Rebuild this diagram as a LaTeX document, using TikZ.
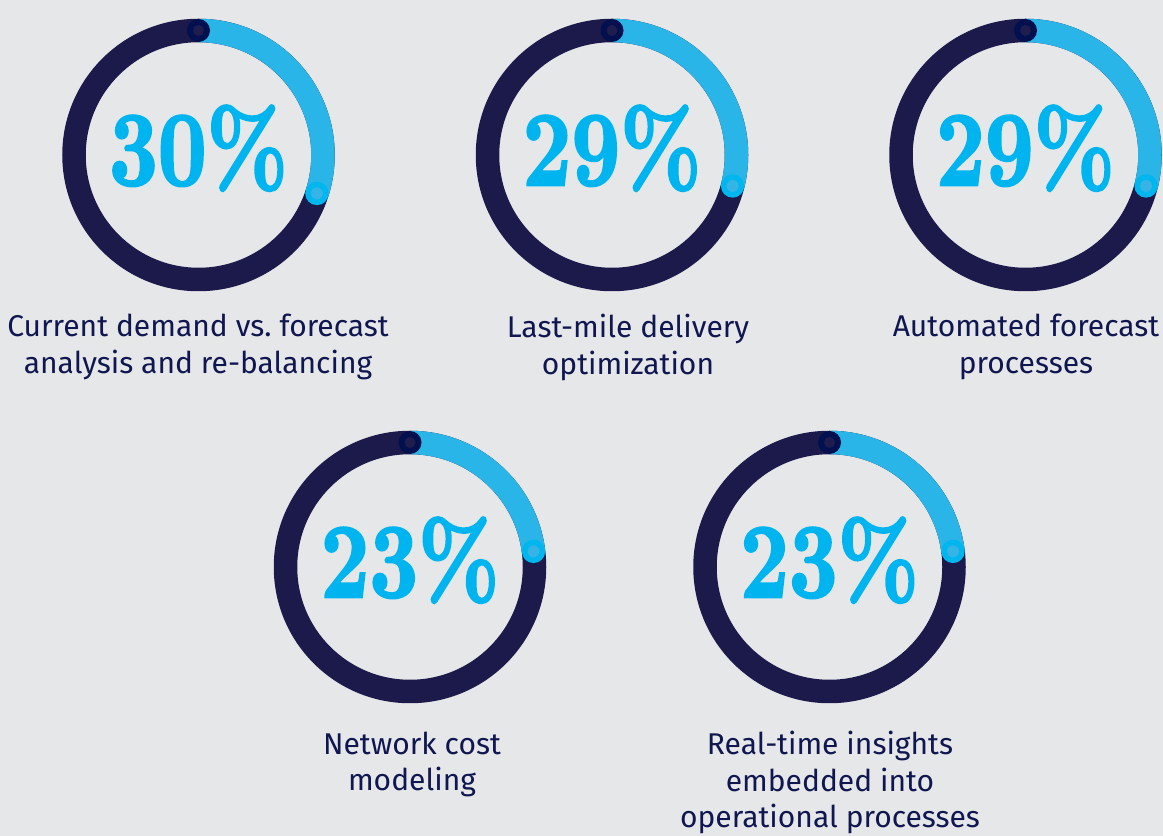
\documentclass[tikz,border=0pt]{standalone}
\usepackage{fontspec}
\usepackage{graphicx}
\newfontfamily\labelfont{Fira Sans}
\newfontfamily\pctfont{lmroman10-bold.otf}[FakeBold=2.5]
\definecolor{bg}{HTML}{E6E7E9}
\definecolor{navy}{HTML}{1B1A4B}
\definecolor{arcblue}{HTML}{2AB5E8}
\definecolor{pctblue}{HTML}{00B5EF}
\definecolor{dotdark}{HTML}{02104F}
\definecolor{dotdarkin}{HTML}{1F1C4E}
\definecolor{dotlight}{HTML}{00B6EF}
\definecolor{dotlightin}{HTML}{36B4E6}
\definecolor{labelc}{HTML}{0F1650}
\tikzset{
  ringbase/.style={draw=navy, line width=23.5pt},
  ringarc/.style={draw=arcblue, line width=23.5pt},
  pcttext/.style={text=pctblue, font=\pctfont\fontsize{106}{106}\selectfont, inner sep=0pt, anchor=base},
  labeltext/.style={text=labelc, font=\labelfont\fontsize{30}{36.5}\selectfont, align=center, inner sep=0pt, anchor=north},
}
\newcommand\DrawRing[5]{%
  % #1 name, #2 x, #3 y, #4 end angle, #5 percent text
  \coordinate (#1) at (#2,#3);
  \draw[ringbase] (#1) circle[radius=124.5pt];
  \draw[ringarc] (#1) ++(90:124.5pt) arc[start angle=90, end angle=#4, radius=124.5pt];
  \fill[dotdark] (#1) ++(90:124.5pt) circle[radius=11.5pt];
  \fill[dotdarkin] (#1) ++(90:124.5pt) circle[radius=5.5pt];
  \fill[dotlight] (#1) ++(#4:124.5pt) circle[radius=11.7pt];
  \fill[dotlightin] (#1) ++(#4:124.5pt) circle[radius=6pt];
  \node[pcttext] (#1pct) at ([yshift=-30pt]#1) {\scalebox{0.8}[1]{#5}};
}
\begin{document}
\begin{tikzpicture}[x=1pt,y=1pt]
  \fill[bg] (0,0) rectangle (1163,836);
  \useasboundingbox (0,0) rectangle (1163,836);
  \DrawRing{r1}{198.5}{681}{-18}{30\%}
  \DrawRing{r2}{612}{681}{-14.4}{29\%}
  \DrawRing{r3}{1025.5}{681}{-14.4}{29\%}
  \DrawRing{r4}{410}{269}{7.2}{23\%}
  \DrawRing{r5}{829.5}{269}{7.2}{23\%}
  \node[labeltext] (l1) at (198,522) {Current demand vs.\ forecast\\analysis and re-balancing};
  \node[labeltext] (l2) at (628,522) {Last-mile delivery\\optimization};
  \node[labeltext] (l3) at (1026,522) {Automated forecast\\processes};
  \node[labeltext] (l4) at (412,104.5) {Network cost\\modeling};
  \node[labeltext] (l5) at (830,105) {Real-time insights\\embedded into\\operational processes};
\end{tikzpicture}
\end{document}
